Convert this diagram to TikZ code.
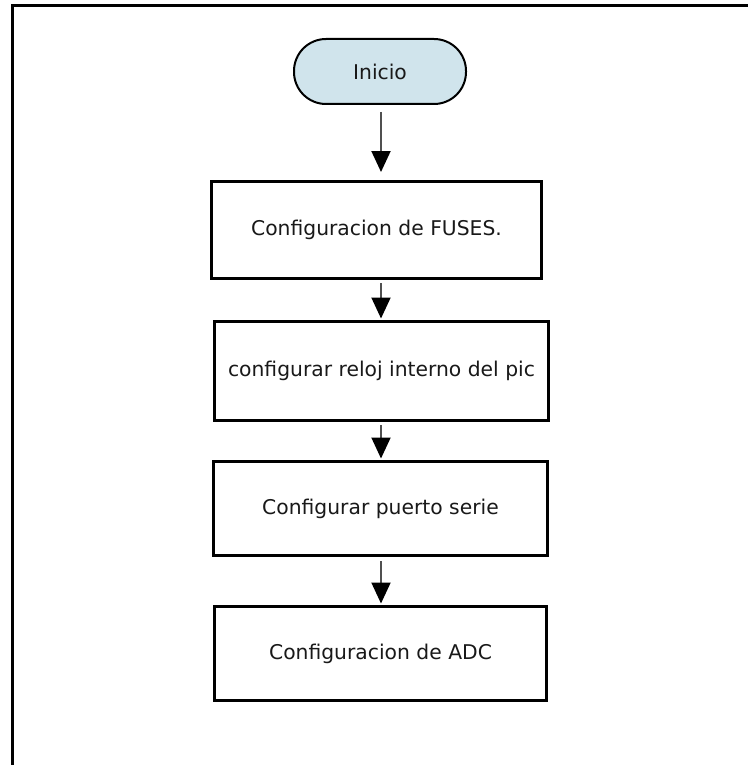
\documentclass[tikz,border=0pt]{standalone}
\usepackage{fontspec}
\setmainfont{DejaVu Sans}
\usetikzlibrary{arrows.meta}
\definecolor{startfill}{HTML}{D0E4EC}
\definecolor{flowline}{HTML}{505050}
\begin{document}
\begin{tikzpicture}[x=1pt,y=-1pt,
  txt/.style={font=\fontsize{20.3}{24}\selectfont, text=black!90},
  terminal/.style={txt, draw=black, line width=2pt, fill=startfill,
    rounded corners=32pt, minimum width=172pt, minimum height=65pt, inner sep=0pt},
  stepbox/.style={txt, draw=black, line width=3pt, fill=white,
    minimum width=332pt, minimum height=96pt, inner sep=0pt},
  flow/.style={draw=flowline, line width=2pt,
    -{Triangle[width=19pt,length=21pt,fill=black,color=black]}}]
\useasboundingbox (0,0) rectangle (748,765);
\fill[white] (0,0) rectangle (748,765);
% page frame (left and top edges only)
\draw[line width=3pt] (12,765) -- (12,6) -- (748,6);

\node[terminal] (inicio) at (380,71.5) {Inicio};
\node[stepbox, minimum width=330pt, minimum height=97pt] (fuses) at (376.5,230) {Configuracion de FUSES.};
\node[stepbox, minimum width=334pt, minimum height=99pt] (reloj) at (381.5,371) {configurar reloj interno del pic};
\node[stepbox, minimum width=334pt, minimum height=94pt] (serie) at (380.5,508.5) {Configurar puerto serie};
\node[stepbox, minimum width=332pt, minimum height=94pt] (adc) at (380.5,653.5) {Configuracion de ADC};

\coordinate (ax) at (381,0);
\draw[flow, shorten <=7pt, shorten >=8pt] (inicio.south -| ax) -- (fuses.north -| ax);
\draw[flow, shorten <=3pt, shorten >=1.5pt] (fuses.south -| ax) -- (reloj.north -| ax);
\draw[flow, shorten <=3pt, shorten >=1.5pt] (reloj.south -| ax) -- (serie.north -| ax);
\draw[flow, shorten <=4pt, shorten >=1.5pt] (serie.south -| ax) -- (adc.north -| ax);
\end{tikzpicture}
\end{document}
